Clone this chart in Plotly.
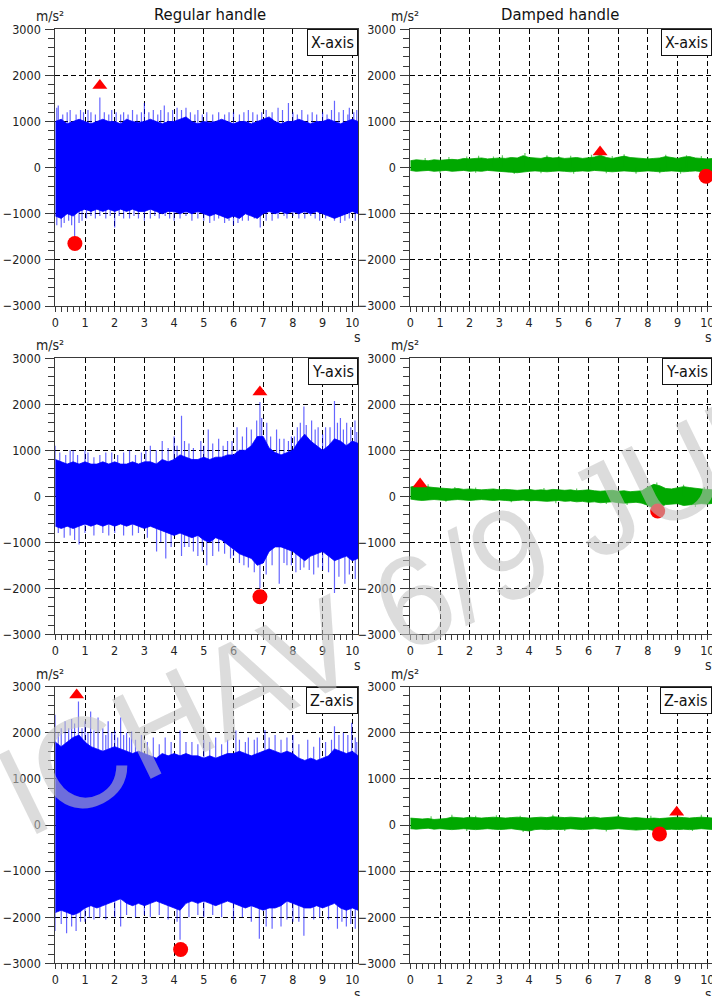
import plotly.graph_objects as go

# ---------------- data ----------------
T = [0.0, 0.2, 0.4, 0.6, 0.8, 1.0, 1.2, 1.4, 1.6, 1.8, 2.0, 2.2, 2.4, 2.6, 2.8,
     3.0, 3.2, 3.4, 3.6, 3.8, 4.0, 4.2, 4.4, 4.6, 4.8, 5.0, 5.2, 5.4, 5.6, 5.8,
     6.0, 6.2, 6.4, 6.6, 6.8, 7.0, 7.2, 7.4, 7.6, 7.8, 8.0, 8.2, 8.4, 8.6, 8.8,
     9.0, 9.2, 9.4, 9.6, 9.8, 10.0, 10.2]

# Regular handle, X-axis: envelope of the dense signal
REG_X_UP = [1000, 1050, 950, 1000, 1050, 1000, 950, 1000, 1050, 1000, 1000, 950, 1050,
            1000, 980, 1000, 1050, 1000, 950, 1000, 1000, 1050, 1100, 1000, 950, 1000,
            980, 1000, 1050, 1000, 950, 1000, 1000, 950, 1000, 1050, 1100, 1000, 950,
            1000, 1000, 1050, 1000, 950, 1000, 1000, 1050, 1000, 950, 1000, 1050, 1000]
REG_X_LO = [-1050, -1100, -1000, -1050, -950, -900, -950, -900, -950, -900, -950, -900,
            -950, -900, -950, -950, -900, -950, -1000, -950, -950, -1000, -950, -1000,
            -950, -1000, -1050, -1000, -1050, -1100, -1050, -1100, -1000, -1050, -1100,
            -1000, -950, -1000, -950, -1000, -950, -1000, -950, -1000, -950, -1000,
            -1050, -1100, -1050, -1000, -950, -1000]
REG_X_SPIKES = [(0.05, 1300), (0.1, 1350), (0.25, 1150), (0.4, 1200), (0.5, 1250), (0.7, 1150),
                (0.85, 1250), (0.95, 1200), (1.1, 1250), (1.2, 1200), (1.35, 1150), (1.5, 1520),
                (1.65, 1200), (1.8, 1150), (1.9, 1250), (2.05, 1200), (2.2, 1150), (2.3, 1200),
                (2.45, 1150), (2.6, 1250), (2.75, 1150), (2.9, 1200), (3.0, 1400), (3.15, 1200),
                (3.3, 1250), (3.45, 1150), (3.55, 1250), (3.67, 1350), (3.8, 1200), (3.95, 1250),
                (4.1, 1300), (4.25, 1250), (4.4, 1300), (4.55, 1200), (4.7, 1150), (4.8, 1250),
                (4.95, 1150), (5.1, 1200), (5.3, 1150), (5.5, 1200), (5.7, 1150), (5.85, 1200),
                (6.0, 1200), (6.2, 1150), (6.35, 1200), (6.5, 1250), (6.65, 1200), (6.8, 1150),
                (6.95, 1200), (7.1, 1250), (7.3, 1200), (7.5, 1300), (7.65, 1250), (7.85, 1400),
                (8.0, 1200), (8.15, 1150), (8.3, 1250), (8.5, 1150), (8.65, 1200), (8.8, 1150),
                (9.0, 1200), (9.15, 1150), (9.3, 1250), (9.4, 1450), (9.55, 1200), (9.7, 1250),
                (9.85, 1150), (9.9, 1300), (10.05, 1200), (10.15, 1250),
                (0.05, -1250), (0.2, -1300), (0.3, -1200), (0.45, -1150), (0.55, -1250),
                (0.65, -1500), (0.8, -1200), (0.9, -1150), (1.05, -1100), (1.2, -1050),
                (1.35, -1100), (1.5, -1050), (1.7, -1100), (1.85, -1050), (2.0, -1300),
                (2.15, -1050), (2.3, -1100), (2.5, -1100), (2.65, -1050), (2.8, -1100),
                (3.0, -1150), (3.2, -1100), (3.35, -1050), (3.5, -1100), (3.7, -1050),
                (3.85, -1100), (4.0, -1150), (4.2, -1100), (4.4, -1050), (4.6, -1150),
                (4.8, -1100), (5.0, -1150), (5.2, -1200), (5.35, -1150), (5.5, -1100),
                (5.7, -1200), (5.85, -1150), (6.0, -1250), (6.15, -1200), (6.3, -1150),
                (6.5, -1150), (6.7, -1100), (6.9, -1300), (7.1, -1150), (7.3, -1150),
                (7.5, -1100), (7.7, -1050), (7.8, -1100), (8.0, -1050), (8.2, -1100),
                (8.4, -1100), (8.6, -1050), (8.75, -1100), (8.9, -1150), (9.1, -1100),
                (9.25, -1050), (9.4, -1150), (9.6, -1200), (9.75, -1150), (9.9, -1100),
                (10.1, -1150)]
REG_X_MAX = (1.50, 1780)
REG_X_MIN = (0.66, -1645)

# Regular handle, Y-axis
REG_Y_UP = [800, 750, 700, 750, 700, 750, 700, 700, 750, 700, 750, 700, 700, 750, 700,
            750, 750, 700, 800, 750, 800, 900, 850, 800, 800, 850, 800, 850, 850, 900,
            900, 1000, 1000, 1100, 1300, 1300, 1050, 950, 900, 950, 1000, 1200, 1350,
            1200, 1100, 1000, 1100, 1250, 1200, 1100, 1200, 1150]
REG_Y_LO = [-650, -700, -650, -700, -650, -600, -650, -600, -650, -600, -650, -600, -650,
            -600, -650, -700, -650, -700, -750, -800, -850, -800, -850, -900, -850, -950,
            -1000, -900, -950, -1050, -1150, -1250, -1300, -1350, -1500, -1450, -1200,
            -1100, -1100, -1150, -1200, -1300, -1400, -1300, -1250, -1200, -1300, -1400,
            -1350, -1300, -1400, -1350]
REG_Y_SPIKES = [(0.0, 1100), (0.15, 950), (0.35, 900), (0.5, 1000), (0.6, 1000), (0.75, 900),
                (1.0, 1000), (1.1, 950), (1.3, 850), (1.5, 900), (1.7, 950), (1.9, 950),
                (2.1, 900), (2.3, 950), (2.5, 1000), (2.7, 900), (2.9, 950), (3.05, 1000),
                (3.2, 1100), (3.4, 1000), (3.6, 1200), (3.8, 1050), (4.0, 1300), (4.1, 1100),
                (4.25, 1750), (4.35, 1200), (4.5, 1150), (4.65, 1050), (4.9, 1200), (5.0, 1100),
                (5.15, 1450), (5.3, 1150), (5.5, 1250), (5.65, 1100), (5.8, 1200), (5.95, 1200),
                (6.12, 1500), (6.3, 1300), (6.44, 1500), (6.6, 1450), (6.78, 1650), (6.89, 2050),
                (6.95, 1700), (7.12, 1600), (7.25, 1300), (7.45, 1450), (7.55, 1250), (7.7, 1250),
                (7.85, 1200), (7.95, 1300), (8.05, 1300), (8.15, 1500), (8.25, 1600), (8.37, 1950),
                (8.45, 1550), (8.63, 1650), (8.75, 1450), (8.85, 1500), (9.0, 1350), (9.1, 1500),
                (9.25, 1500), (9.4, 2070), (9.5, 1600), (9.6, 1700), (9.7, 1450), (9.81, 1600),
                (9.95, 1500), (10.09, 1650), (10.15, 1400),
                (0.1, -800), (0.3, -900), (0.5, -850), (0.65, -950), (0.8, -1050), (1.0, -800),
                (1.3, -850), (1.6, -800), (1.8, -850), (2.0, -800), (2.3, -850), (2.6, -850),
                (2.8, -800), (3.1, -900), (3.41, -1200), (3.55, -1000), (3.72, -1350),
                (3.9, -1100), (4.25, -1300), (4.35, -1100), (4.5, -1100), (4.65, -1200),
                (4.8, -1300), (4.95, -1200), (5.1, -1500), (5.3, -1300), (5.5, -1200),
                (5.7, -1250), (5.9, -1350), (6.0, -1300), (6.2, -1450), (6.35, -1500),
                (6.5, -1550), (6.7, -1650), (6.89, -2000), (7.1, -1700), (7.3, -1500),
                (7.54, -1900), (7.7, -1450), (7.8, -1500), (7.95, -1500), (8.1, -1650),
                (8.25, -1600), (8.37, -1550), (8.55, -1600), (8.7, -1700), (8.85, -1550),
                (9.0, -1600), (9.2, -1650), (9.4, -2100), (9.55, -1750), (9.75, -1900),
                (9.9, -1700), (10.1, -1800)]
REG_Y_MAX = (6.89, 2270)
REG_Y_MIN = (6.89, -2183)

# Regular handle, Z-axis
REG_Z_UP = [1800, 1700, 1800, 1900, 1950, 1800, 1700, 1650, 1600, 1650, 1700, 1650, 1600,
            1550, 1600, 1550, 1500, 1450, 1550, 1500, 1550, 1500, 1550, 1500, 1500, 1450,
            1500, 1450, 1500, 1550, 1550, 1600, 1550, 1500, 1550, 1600, 1650, 1600, 1550,
            1600, 1550, 1450, 1400, 1450, 1400, 1450, 1500, 1650, 1600, 1550, 1600, 1500]
REG_Z_LO = [-1900, -1850, -1900, -1950, -1900, -1800, -1750, -1800, -1750, -1700, -1650,
            -1600, -1700, -1750, -1700, -1750, -1700, -1650, -1700, -1750, -1800, -1850,
            -1700, -1650, -1700, -1650, -1700, -1750, -1700, -1650, -1700, -1750, -1800,
            -1750, -1800, -1850, -1800, -1800, -1750, -1650, -1700, -1750, -1800, -1800,
            -1750, -1800, -1750, -1700, -1800, -1850, -1800, -1850]
REG_Z_SPIKES = [(0.0, 2390), (0.1, 2000), (0.2, 2100), (0.33, 2250), (0.45, 2100), (0.55, 2300),
                (0.65, 2200), (0.78, 2680), (0.9, 2100), (1.0, 2250), (1.1, 2000), (1.19, 2460),
                (1.3, 2050), (1.44, 2330), (1.6, 2100), (1.7, 1950), (1.78, 2250), (1.9, 2000),
                (2.0, 2050), (2.1, 1900), (2.2, 2330), (2.3, 1950), (2.4, 2000), (2.5, 1900),
                (2.57, 2030), (2.7, 1850), (2.9, 1950), (3.1, 1800), (3.3, 1900), (3.5, 1750),
                (3.7, 1900), (3.9, 1800), (4.2, 2050), (4.4, 1800), (4.6, 1800), (4.8, 1750),
                (5.0, 1850), (5.2, 1800), (5.4, 1900), (5.6, 1750), (5.8, 1850), (6.08, 2050),
                (6.2, 1850), (6.4, 1800), (6.5, 1900), (6.7, 1850), (6.8, 1900), (7.06, 2060),
                (7.2, 1900), (7.4, 1950), (7.6, 1850), (7.8, 1900), (8.0, 1950), (8.2, 1750),
                (8.5, 1850), (8.7, 1700), (8.9, 1900), (9.1, 1800), (9.3, 1850), (9.4, 2140),
                (9.55, 1950), (9.7, 2000), (9.85, 1950), (9.98, 2220), (10.1, 1900),
                (10.15, 1800),
                (0.0, -2300), (0.2, -2150), (0.38, -2350), (0.55, -2200), (0.7, -2300),
                (0.85, -2100), (1.0, -2100), (1.15, -2000), (1.3, -2050), (1.5, -2000),
                (1.7, -2050), (2.0, -2000), (2.2, -2200), (2.4, -1950), (2.7, -2000),
                (3.0, -1950), (3.2, -2000), (3.5, -1950), (3.8, -2050), (4.1, -2100),
                (4.2, -2490), (4.5, -2000), (4.8, -1950), (5.0, -2000), (5.3, -1950),
                (5.6, -2000), (6.0, -2050), (6.3, -2000), (6.6, -2100), (6.87, -2470),
                (7.1, -2200), (7.3, -2250), (7.6, -2200), (7.8, -2050), (8.0, -2100),
                (8.2, -2100), (8.37, -2400), (8.7, -2050), (8.9, -2000), (9.2, -2050),
                (9.5, -2250), (9.65, -2100), (9.8, -2200), (9.95, -2150), (10.1, -2250)]
REG_Z_MAX = (0.72, 2820)
REG_Z_MIN = (4.22, -2700)

# Damped handle, X-axis
DMP_X_UP = [150, 170, 160, 150, 170, 160, 170, 180, 170, 200, 190, 200, 210, 190, 200, 210,
            200, 220, 210, 260, 220, 210, 200, 230, 210, 220, 200, 210, 220, 200, 210, 230,
            270, 220, 200, 230, 250, 220, 210, 200, 190, 200, 210, 240, 220, 200, 230, 240,
            210, 200, 190, 200]
DMP_X_LO = [-60, -80, -70, -60, -80, -70, -60, -80, -70, -60, -80, -70, -80, -60, -70, -80,
            -90, -100, -110, -90, -80, -70, -80, -90, -80, -70, -80, -90, -80, -70, -80, -60,
            -70, -80, -90, -80, -70, -80, -90, -80, -70, -80, -90, -80, -70, -80, -90, -80,
            -70, -80, -100, -90]
DMP_X_SPIKES = [(0.5, 210), (1.3, 230), (1.9, 240), (2.3, 260), (2.8, 240), (3.1, 270),
                (3.86, 320), (4.6, 270), (5.0, 250), (5.4, 260), (6.1, 280), (6.8, 250),
                (7.2, 290), (8.0, 240), (8.6, 280), (9.3, 270), (9.8, 250),
                (1.0, -120), (2.2, -110), (3.5, -140), (4.4, -120), (5.5, -130), (6.6, -120),
                (7.6, -130), (8.4, -120), (9.1, -130)]
DMP_X_MAX = (6.39, 340)
DMP_X_MIN = (9.96, -185)

# Damped handle, Y-axis
DMP_Y_UP = [200, 230, 220, 200, 190, 180, 170, 160, 170, 150, 160, 150, 140, 150, 160, 140,
            150, 140, 130, 140, 150, 130, 140, 130, 150, 140, 130, 140, 120, 130, 140, 120,
            110, 120, 130, 110, 120, 100, 110, 120, 200, 260, 230, 170, 160, 180, 210, 190,
            170, 160, 150, 140]
DMP_Y_LO = [-60, -80, -90, -80, -70, -80, -90, -80, -70, -80, -90, -80, -70, -80, -90, -80,
            -90, -100, -90, -80, -100, -90, -100, -110, -100, -90, -110, -100, -120, -110,
            -130, -120, -140, -130, -120, -140, -150, -140, -130, -150, -200, -260, -240,
            -180, -170, -160, -200, -180, -170, -160, -170, -150]
DMP_Y_SPIKES = [(0.6, 260), (1.5, 200), (2.2, 190), (3.0, 190), (4.5, 180), (5.6, 170),
                (8.3, 300), (9.2, 250), (9.9, 200),
                (1.2, -120), (3.4, -130), (4.9, -150), (6.6, -170), (7.3, -190), (8.2, -280),
                (9.6, -230)]
DMP_Y_MAX = (0.33, 270)
DMP_Y_MIN = (8.33, -320)

# Damped handle, Z-axis
DMP_Z_UP = [150, 140, 130, 140, 120, 130, 140, 170, 160, 150, 170, 160, 150, 160, 170, 160,
            150, 160, 170, 160, 150, 160, 170, 160, 180, 170, 160, 170, 160, 150, 160, 170,
            150, 160, 170, 180, 160, 150, 160, 150, 140, 150, 140, 150, 160, 170, 160, 150,
            160, 170, 160, 150]
DMP_Z_LO = [-80, -90, -80, -70, -90, -80, -90, -100, -90, -80, -90, -100, -90, -80, -90,
            -100, -90, -80, -100, -110, -130, -100, -90, -100, -90, -100, -90, -80, -90,
            -100, -90, -80, -90, -100, -90, -80, -90, -100, -110, -100, -90, -120, -130,
            -100, -90, -100, -90, -100, -90, -80, -90, -100]
DMP_Z_SPIKES = [(0.7, 190), (1.4, 220), (2.2, 200), (2.9, 210), (3.7, 200), (4.8, 220),
                (5.9, 200), (7.0, 230), (8.1, 200), (9.8, 220),
                (1.9, -130), (3.8, -150), (5.2, -130), (6.6, -140), (8.4, -160), (9.5, -130)]
DMP_Z_MAX = (8.97, 275)
DMP_Z_MIN = (8.39, -195)

AXIS_LABELS = ["X-axis", "X-axis", "Y-axis", "Y-axis", "Z-axis", "Z-axis"]
COLUMN_TITLES = ["Regular handle", "Damped handle"]
Y_TICKS = [-3000, -2000, -1000, 0, 1000, 2000, 3000]
X_TICKS = [0, 1, 2, 3, 4, 5, 6, 7, 8, 9, 10]
Y_UNIT = "m/s²"
X_UNIT = "s"
WATERMARK = "ICHAV 6/9 JUN"

# ---------------- styling / layout ----------------
W, H = 712, 996
BLUE = "#0000ff"
BLUE_SPK = "rgba(0,0,255,0.6)"
GREEN = "#00a800"
GREEN_SPK = "rgba(0,168,0,0.6)"
RED = "#ff0000"
AXC = "#3a3a3a"
FONT = "DejaVu Sans Condensed, DejaVu Sans, sans-serif"
WM_FONT = "Liberation Sans Narrow, Arial Narrow, sans-serif"

COL_X0 = [55.3, 410.3]        # pixel position of t = 0
COL_X1 = [358.0, 712.0]       # right edge of plot area
PX_PER_S = 29.7
ROW_TOP = [29.3, 358.3, 686.7]
ROW_BOT = [306.0, 634.3, 963.3]

panels = [
    (REG_X_UP, REG_X_LO, REG_X_SPIKES, REG_X_MAX, REG_X_MIN, BLUE, BLUE_SPK),
    (DMP_X_UP, DMP_X_LO, DMP_X_SPIKES, DMP_X_MAX, DMP_X_MIN, GREEN, GREEN_SPK),
    (REG_Y_UP, REG_Y_LO, REG_Y_SPIKES, REG_Y_MAX, REG_Y_MIN, BLUE, BLUE_SPK),
    (DMP_Y_UP, DMP_Y_LO, DMP_Y_SPIKES, DMP_Y_MAX, DMP_Y_MIN, GREEN, GREEN_SPK),
    (REG_Z_UP, REG_Z_LO, REG_Z_SPIKES, REG_Z_MAX, REG_Z_MIN, BLUE, BLUE_SPK),
    (DMP_Z_UP, DMP_Z_LO, DMP_Z_SPIKES, DMP_Z_MAX, DMP_Z_MIN, GREEN, GREEN_SPK),
]

fig = go.Figure()
annotations = []
layout_axes = {}

for i, (up, lo, spk, mx, mn, col, spkcol) in enumerate(panels):
    n = i + 1
    r, c = i // 2, i % 2
    xname = "x" if n == 1 else f"x{n}"
    yname = "y" if n == 1 else f"y{n}"

    # signal envelope
    fig.add_trace(go.Scatter(x=T + T[::-1], y=up + lo[::-1], xaxis=xname, yaxis=yname,
                             mode="lines", fill="toself", fillcolor=col,
                             line=dict(color=col, width=0.8), hoverinfo="skip"))
    # individual spikes
    sx, sy = [], []
    for t, v in spk:
        sx += [t, t, None]
        sy += [0, v, None]
    fig.add_trace(go.Scatter(x=sx, y=sy, xaxis=xname, yaxis=yname, mode="lines",
                             line=dict(color=spkcol, width=1.2), hoverinfo="skip"))
    # max / min markers
    fig.add_trace(go.Scatter(x=[mx[0]], y=[mx[1]], xaxis=xname, yaxis=yname, mode="markers",
                             marker=dict(symbol="triangle-up", size=13, color=RED,
                                         line=dict(width=0))))
    fig.add_trace(go.Scatter(x=[mn[0]], y=[mn[1]], xaxis=xname, yaxis=yname, mode="markers",
                             marker=dict(symbol="circle", size=15, color=RED,
                                         line=dict(width=0))))

    xd = [COL_X0[c] / W, COL_X1[c] / W]
    yd = [1 - ROW_BOT[r] / H, 1 - ROW_TOP[r] / H]
    xmax = (COL_X1[c] - COL_X0[c]) / PX_PER_S

    key = "xaxis" if n == 1 else f"xaxis{n}"
    layout_axes[key] = dict(
        domain=xd, range=[0, xmax], anchor=yname, tickmode="array", tickvals=X_TICKS,
        automargin=False, ticklabeloverflow="allow",
        showgrid=True, gridcolor="#000000", griddash="5px,3px", gridwidth=1,
        zeroline=False, showline=True, linecolor=AXC, linewidth=1, mirror=True,
        ticks="outside", ticklen=5, tickcolor=AXC, tickwidth=1,
        tickfont=dict(family=FONT, size=12.5, color="#222222"),
        minor=dict(dtick=0.2, tick0=0, ticks="outside", ticklen=5, tickcolor=AXC,
                   showgrid=False),
        fixedrange=True)
    key = "yaxis" if n == 1 else f"yaxis{n}"
    layout_axes[key] = dict(
        domain=yd, range=[-3000, 3000], anchor=xname, tickmode="array", tickvals=Y_TICKS,
        automargin=False,
        showgrid=True, gridcolor="#000000", griddash="5px,3px", gridwidth=1,
        zeroline=False, showline=True, linecolor=AXC, linewidth=1, mirror=True,
        ticks="outside", ticklen=9, tickcolor=AXC, tickwidth=1,
        tickfont=dict(family=FONT, size=12.5, color="#222222"), ticklabelstandoff=2,
        minor=dict(dtick=200, tick0=0, ticks="outside", ticklen=6, tickcolor=AXC,
                   showgrid=False),
        fixedrange=True)

    # axis-name box (top right)
    annotations.append(dict(xref=f"{xname} domain", yref=f"{yname} domain", x=1, y=1,
                            xanchor="right", yanchor="top", text=AXIS_LABELS[i],
                            showarrow=False, bgcolor="white", bordercolor="#111111",
                            borderwidth=1, borderpad=3,
                            font=dict(family=FONT, size=16, color="#111111")))
    # unit labels
    annotations.append(dict(xref="paper", yref="paper", x=(COL_X0[c] - 5) / W,
                            y=1 - (ROW_TOP[r] - 13) / H, xanchor="center", yanchor="middle",
                            text=Y_UNIT, showarrow=False,
                            font=dict(family=FONT, size=14, color="#222222")))
    annotations.append(dict(xref="paper", yref="paper", x=min(COL_X0[c] + 302, 708) / W,
                            y=1 - (ROW_BOT[r] + 31) / H, xanchor="center",
                            yanchor="middle", text=X_UNIT, showarrow=False,
                            font=dict(family=FONT, size=14, color="#222222")))

for c, title in enumerate(COLUMN_TITLES):
    annotations.append(dict(xref="paper", yref="paper", x=[210, 560][c] / W, y=1 - 15 / H,
                            xanchor="center", yanchor="middle", text=title, showarrow=False,
                            font=dict(family=FONT, size=16.5, color="#111111")))

# watermark
annotations.append(dict(xref="paper", yref="paper", x=402 / W, y=1 - 606 / H,
                        xanchor="center", yanchor="middle", text=WATERMARK, showarrow=False,
                        textangle=-26,
                        font=dict(family=WM_FONT, size=128, color="rgba(193,193,193,0.57)")))

fig.update_layout(width=W, height=H, margin=dict(l=0, r=0, t=0, b=0, autoexpand=False),
                  paper_bgcolor="white", plot_bgcolor="white", showlegend=False,
                  annotations=annotations, **layout_axes)

fig.write_html("out.html", config={"displayModeBar": False, "staticPlot": True},
               post_script="document.body.style.margin='0';document.body.style.padding='0';")
